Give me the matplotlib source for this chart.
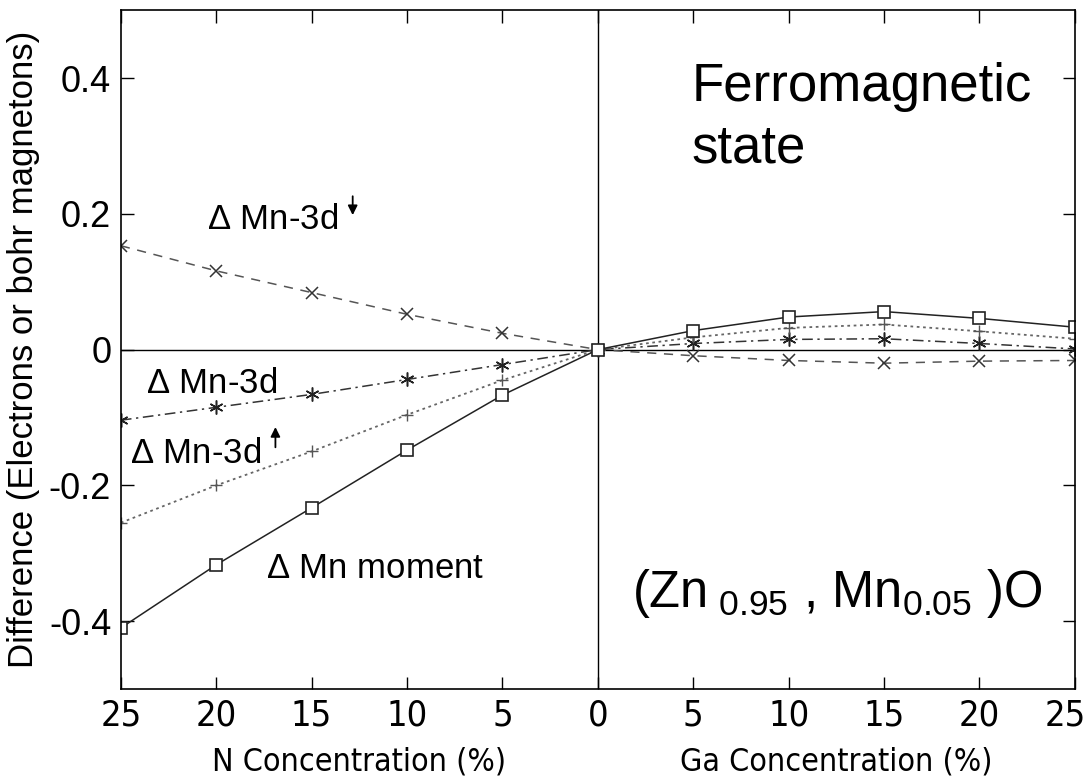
#!/usr/bin/env python3

import matplotlib
matplotlib.use('Agg')
import matplotlib.pyplot as plt
from matplotlib import font_manager
from matplotlib.transforms import ScaledTranslation
import numpy as np

# concentration: negative = N doping, positive = Ga doping
conc = [-25, -20, -15, -10, -5, 0, 5, 10, 15, 20, 25]

mn3d_down = [0.153, 0.116, 0.084, 0.052, 0.024, 0.0, -0.009, -0.016, -0.020, -0.017, -0.016]
mn3d_total = [-0.104, -0.085, -0.066, -0.044, -0.022, 0.0, 0.009, 0.015, 0.016, 0.009, 0.001]
mn3d_up = [-0.255, -0.200, -0.150, -0.096, -0.045, 0.0, 0.018, 0.032, 0.037, 0.027, 0.016]
mn_moment = [-0.410, -0.317, -0.233, -0.148, -0.067, 0.0, 0.028, 0.048, 0.056, 0.046, 0.033]

xticks = [-25, -20, -15, -10, -5, 0, 5, 10, 15, 20, 25]
xtick_labels = ['25', '20', '15', '10', '5', '0', '5', '10', '15', '20', '25']
yticks = [-0.4, -0.2, 0, 0.2, 0.4]
ytick_labels = ['-0.4', '-0.2', '0', '0.2', '0.4']

plt.rcParams['font.family'] = ['Liberation Sans', 'DejaVu Sans']
plt.rcParams['mathtext.fontset'] = 'custom'
plt.rcParams['mathtext.rm'] = 'Liberation Sans'
plt.rcParams['mathtext.it'] = 'Liberation Sans'

# look for a condensed face for the x axis texts
names = set(f.name for f in font_manager.fontManager.ttflist)
narrow_kw = {'fontfamily': ['Liberation Sans']}
tick_size, label_size = 25, 22
if 'Liberation Sans Narrow' in names:
    narrow_kw = {'fontfamily': ['Liberation Sans Narrow']}
    tick_size, label_size = 28, 25
else:
    for f in font_manager.fontManager.ttflist:
        if f.name == 'DejaVu Sans' and str(f.stretch) in ('condensed', '300', 'semi-condensed'):
            narrow_kw = {'fontfamily': ['DejaVu Sans'], 'fontstretch': 'condensed'}
            tick_size, label_size = 26, 23
            break

fig = plt.figure(figsize=(10.89, 7.83), dpi=100)
ax = fig.add_axes([0.111, 0.12, 0.876, 0.867])

ax.axhline(0, color='black', lw=1.0, zorder=1)
ax.axvline(0, color='black', lw=1.0, zorder=1)

ax.plot(conc, mn3d_down, linestyle=(0, (6, 5)), color='#555555', lw=1.1,
        marker='x', ms=9, mec='#333333', mew=1.1)
ax.plot(conc, mn3d_total, linestyle=(0, (7, 3, 1.5, 3)), color='#333333', lw=1.1,
        marker=(6, 2, 0), ms=10, mec='#222222', mew=1.1)
ax.plot(conc, mn3d_up, linestyle=(0, (1.5, 2)), color='#666666', lw=1.3,
        marker='+', ms=9, mec='#555555', mew=1.0)
ax.plot(conc, mn_moment, linestyle='-', color='#222222', lw=1.1,
        marker='s', ms=9, mfc='white', mec='#222222', mew=1.2)

ax.set_xlim(-25, 25)
ax.set_ylim(-0.5, 0.5)
ax.set_xticks(xticks)
ax.set_xticklabels(xtick_labels, fontsize=tick_size, **narrow_kw)
ax.set_yticks(yticks)
ax.set_yticklabels(ytick_labels, fontsize=26)
ax.tick_params(direction='in', length=9, width=1, top=True, right=True, pad=7)
for s in ax.spines.values():
    s.set_linewidth(1.2)

# keep the last "25" inside the figure, as in the original
last = ax.get_xticklabels()[-1]
last.set_transform(last.get_transform() + ScaledTranslation(-10 / 100, 0, fig.dpi_scale_trans))

ax.set_ylabel('Difference (Electrons or bohr magnetons)', fontsize=25, labelpad=6)

ax.text(-12.5, -0.585, 'N Concentration (%)', ha='center', va='top', fontsize=label_size, **narrow_kw)
ax.text(12.5, -0.585, 'Ga Concentration (%)', ha='center', va='top', fontsize=label_size, **narrow_kw)

ax.text(-20.5, 0.177, r'$\Delta$ Mn-3d', fontsize=25, ha='left', va='baseline')
ax.annotate('', xy=(-12.85, 0.194), xytext=(-12.85, 0.230),
            arrowprops=dict(arrowstyle='-|>', color='black', lw=1.3, mutation_scale=14))
ax.text(-23.7, -0.064, r'$\Delta$ Mn-3d', fontsize=25, ha='left', va='baseline')
ax.text(-24.5, -0.167, r'$\Delta$ Mn-3d', fontsize=25, ha='left', va='baseline')
ax.annotate('', xy=(-16.9, -0.110), xytext=(-16.9, -0.148),
            arrowprops=dict(arrowstyle='-|>', color='black', lw=1.3, mutation_scale=14))
ax.text(-17.4, -0.337, r'$\Delta$ Mn moment', fontsize=25, ha='left', va='baseline')

ax.text(4.9, 0.366, 'Ferromagnetic', fontsize=38, ha='left', va='baseline')
ax.text(4.9, 0.276, 'state', fontsize=38, ha='left', va='baseline')
ax.text(1.8, -0.379, r'(Zn$_{\ 0.95}$ , Mn$_{0.05}$ )O', fontsize=36.5, ha='left', va='baseline')

fig.savefig('out.png', dpi=100)
